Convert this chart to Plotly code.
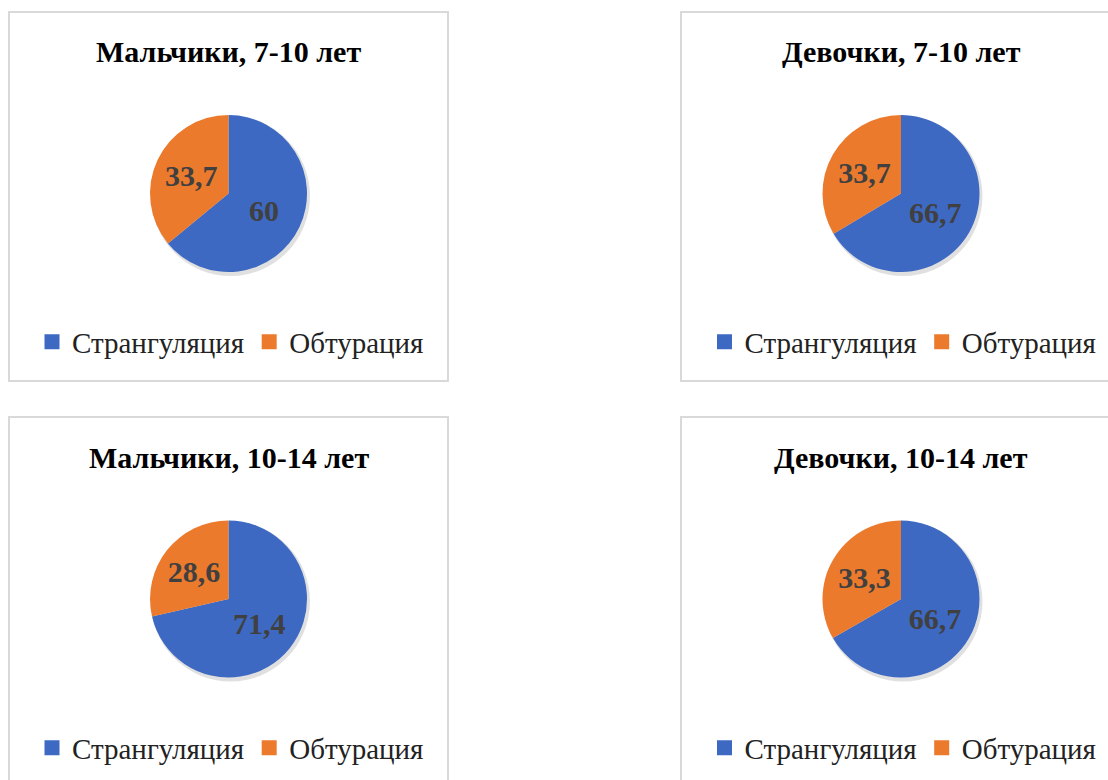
import plotly.graph_objects as go

W, H = 1108, 780

categories = ["Странгуляция", "Обтурация"]
titles = ["Мальчики, 7-10 лет", "Девочки, 7-10 лет", "Мальчики, 10-14 лет", "Девочки, 10-14 лет"]
boys_7_10 = [60, 33.7]
girls_7_10 = [66.7, 33.7]
boys_10_14 = [71.4, 28.6]
girls_10_14 = [66.7, 33.3]
series = [boys_7_10, girls_7_10, boys_10_14, girls_10_14]

colors = ["#3D69C3", "#EC7A2D"]

# layout in pixels
centers = [(228.5, 193.5), (901, 193.5), (228.5, 599), (901, 599)]
R = 78.5
title_y = [52, 52, 457, 457]
legend_y = [342, 342, 748, 748]
boxes = [(9, 12, 448, 381), (681, 12, 1112, 381), (9, 417, 448, 784), (681, 417, 1112, 784)]


def px(x):
    return x / W


def py(y):
    return 1 - y / H


fig = go.Figure()
shapes = []
annotations = []
for i, (vals, (cx, cy)) in enumerate(zip(series, centers)):
    leg = "legend" if i == 0 else f"legend{i + 1}"
    fig.add_trace(go.Pie(
        labels=categories,
        values=vals,
        sort=False,
        direction="clockwise",
        rotation=0,
        marker=dict(colors=colors, line=dict(width=0)),
        texttemplate="%{value}",
        textposition="inside",
        insidetextorientation="horizontal",
        textfont=dict(family="Liberation Serif", size=30, color="#404040", weight="bold"),
        domain=dict(x=[px(cx - R), px(cx + R)], y=[py(cy + R), py(cy - R)]),
        showlegend=False,
        hoverinfo="label+value",
    ))
    # legend entries for this panel
    for cat, col in zip(categories, colors):
        fig.add_trace(go.Scatter(
            x=[None], y=[None], mode="markers", name=cat,
            marker=dict(symbol="square", size=15, color=col),
            legend=leg, showlegend=True, hoverinfo="skip",
        ))
    # soft shadow behind pie
    shapes.append(dict(type="circle", xref="paper", yref="paper", layer="below",
                       x0=px(cx - R + 1), x1=px(cx + R + 3), y0=py(cy + R + 4), y1=py(cy - R + 1),
                       fillcolor="rgba(0,0,0,0.12)", line=dict(width=0)))
    bx0, by0, bx1, by1 = boxes[i]
    shapes.append(dict(type="rect", xref="paper", yref="paper", layer="below",
                       x0=px(bx0), x1=px(bx1), y0=py(by1), y1=py(by0),
                       line=dict(color="#D9D9D9", width=2), fillcolor="rgba(0,0,0,0)"))
    annotations.append(dict(text=titles[i], xref="paper", yref="paper",
                            x=px(cx), y=py(title_y[i]), xanchor="center", yanchor="middle",
                            showarrow=False,
                            font=dict(family="Liberation Serif", size=30, color="#000000", weight="bold")))

legends = {}
for i, (cx, cy) in enumerate(centers):
    key = "legend" if i == 0 else f"legend{i + 1}"
    legends[key] = dict(orientation="h", x=px(cx + 2), y=py(legend_y[i]),
                        xanchor="center", yanchor="middle",
                        font=dict(family="Liberation Serif", size=29, color="#222222"),
                        bgcolor="rgba(0,0,0,0)", itemclick=False, itemdoubleclick=False,
                        tracegroupgap=0)

fig.update_layout(
    width=W, height=H,
    margin=dict(l=0, r=0, t=0, b=0),
    paper_bgcolor="white",
    plot_bgcolor="white",
    separators=", ",
    xaxis=dict(visible=False),
    yaxis=dict(visible=False),
    shapes=shapes,
    annotations=annotations,
    **legends,
)

fig.write_html("out.html")
